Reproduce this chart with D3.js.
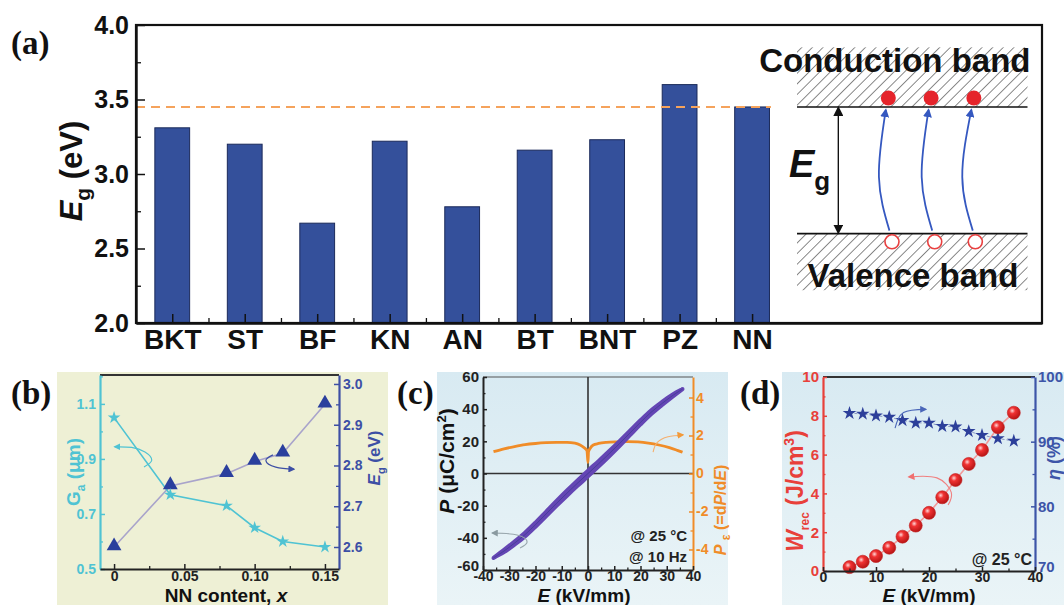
<!DOCTYPE html>
<html>
<head>
<meta charset="utf-8">
<script src="https://cdn.jsdelivr.net/npm/d3@7"></script>
<style>
  body { margin: 0; background: #fff; }
  svg { display: block; }
</style>
</head>
<body>
<script>
// ---------- data ----------
// (a) band gap of the end members
const materials = ["BKT", "ST", "BF", "KN", "AN", "BT", "BNT", "PZ", "NN"];
const bandGaps = [3.31, 3.20, 2.67, 3.22, 2.78, 3.16, 3.23, 3.60, 3.45];
const egTicks = [2.0, 2.5, 3.0, 3.5, 4.0];
const egMinor = [2.25, 2.75, 3.25, 3.75];
const nnGap = 3.45;

// (b) grain size and band gap vs NN content
const nnContent = [0, 0.04, 0.08, 0.10, 0.12, 0.15];
const grainSize = [1.05, 0.77, 0.73, 0.65, 0.60, 0.58];
const gapB = [2.60, 2.75, 2.78, 2.81, 2.83, 2.95];
const gaTicks = [0.5, 0.7, 0.9, 1.1];
const egTicksB = [2.6, 2.7, 2.8, 2.9, 3.0];
const nnTicks = [0, 0.05, 0.10, 0.15];

// (c) P-E loop and permittivity
const loopE = [-36, -32, -28, -24, -20, -16, -12, -8, -4, 0, 4, 8, 12, 16, 20, 24, 28, 32, 36];
const loopUpper = [-52.5, -47.5, -42.3, -36.8, -30.5, -23.8, -17.1, -10.6, -4.3, 1.8, 7.7, 13.8, 20.1, 26.6, 33.1, 39.2, 44.3, 48.9, 52.5];
const loopLower = [-52.5, -48.9, -44.3, -39.2, -33.1, -26.6, -20.1, -13.8, -7.7, -1.8, 4.3, 10.6, 17.1, 23.8, 30.5, 36.8, 42.3, 47.5, 52.5];
const epsE = [-36, -32, -28, -24, -20, -16, -12, -8, -5, -3, -1.5, -0.4, 0, 0.2, 0.8, 2, 4, 7, 11, 15, 19, 23, 27, 31, 34, 36];
const epsVal = [1.15, 1.3, 1.42, 1.52, 1.58, 1.62, 1.64, 1.64, 1.6, 1.5, 1.36, 1.2, 0.58, 1.15, 1.32, 1.5, 1.58, 1.64, 1.67, 1.68, 1.66, 1.6, 1.5, 1.36, 1.22, 1.12];
const pTicks = [-60, -40, -20, 0, 20, 40, 60];
const epsTicks = [-4, -2, 0, 2, 4];
const eTicksC = [-40, -30, -20, -10, 0, 10, 20, 30, 40];

// (d) recoverable energy density and efficiency
const fieldD = [5, 7.5, 10, 12.5, 15, 17.5, 20, 22.5, 25, 27.5, 30, 33, 36];
const wRec = [0.2, 0.48, 0.77, 1.2, 1.77, 2.34, 3.0, 3.8, 4.69, 5.52, 6.24, 7.41, 8.16];
const eta = [94.4, 94.3, 94.0, 93.8, 93.3, 92.9, 92.9, 92.4, 92.3, 91.6, 91.0, 90.5, 90.1];
const wTicks = [0, 2, 4, 6, 8, 10];
const etaTicks = [70, 80, 90, 100];
const eTicksD = [0, 10, 20, 30, 40];

// ---------- setup ----------
const FONT = "'Liberation Sans', Arial, Helvetica, sans-serif";
const SERIF = "'Liberation Serif', 'Times New Roman', serif";

const svg = d3.select("body").append("svg")
  .attr("width", 1064).attr("height", 605)
  .attr("font-family", FONT).attr("font-weight", "bold");
const defs = svg.append("defs");

function marker(id, color, size) {
  defs.append("marker").attr("id", id)
    .attr("viewBox", "0 0 10 10").attr("refX", 8).attr("refY", 5)
    .attr("markerWidth", size).attr("markerHeight", size)
    .attr("markerUnits", "userSpaceOnUse")
    .attr("orient", "auto-start-reverse")
    .append("path").attr("d", "M0,0 L10,5 L0,10 z").attr("fill", color);
}
marker("arBlack", "#111", 10);
marker("arBand", "#3558c0", 9);
marker("arCyan", "#4fc3d3", 7);
marker("arBlue", "#3d4fa5", 7);
marker("arOrange", "#f29a3a", 7);
marker("arGray", "#8a9aa0", 7);
marker("arRed", "#f07070", 7);
marker("arBlueD", "#4a66b8", 7);

// hyphen instead of the typographic minus, as in the figure
const fmtInt = d => d < 0 ? "-" + Math.abs(d) : String(d);

function drawAxis(g, axis, color, fs, sw) {
  g.call(axis);
  g.attr("font-family", FONT).attr("font-size", fs).attr("font-weight", "bold");
  g.select(".domain").attr("stroke", color).attr("stroke-width", sw);
  g.selectAll(".tick line").attr("stroke", color).attr("stroke-width", 1.5);
  g.selectAll(".tick text").attr("fill", color);
  return g;
}
function minorTicks(g, axis, color) {
  g.call(axis.tickFormat(""));
  g.select(".domain").remove();
  g.selectAll(".tick line").attr("stroke", color).attr("stroke-width", 1.3);
}
// lift the lowest label of a vertical axis a little off the corner
function liftBottomLabel(g, v) {
  g.selectAll(".tick").filter(d => d === v).select("text").attr("dy", "0.05em");
}
function curveArrow(pts, xs, ys, color, mk, w) {
  svg.append("path")
    .attr("d", d3.line().x(d => xs(d[0])).y(d => ys(d[1])).curve(d3.curveNatural)(pts))
    .attr("fill", "none").attr("stroke", color).attr("stroke-width", w || 1.3)
    .attr("marker-end", `url(#${mk})`);
}
function vLabel(cx, cy, fs, color, parts) {
  const t = svg.append("text")
    .attr("transform", `translate(${cx + fs * 0.36},${cy}) rotate(-90)`)
    .attr("text-anchor", "middle").attr("font-size", fs).attr("fill", color);
  parts.forEach(p => {
    const s = t.append("tspan").text(p.t);
    if (p.i) s.attr("font-style", "italic");
    if (p.fs) s.attr("font-size", p.fs);
    if (p.dy) s.attr("dy", p.dy);
  });
  return t;
}
function panelTag(x, y, s) {
  svg.append("text").attr("x", x).attr("y", y).attr("font-family", SERIF)
    .attr("font-size", 33).attr("font-weight", "bold").attr("fill", "#111").text(s);
}
function xTitle(cx, y, pre, it, post) {
  const t = svg.append("text").attr("x", cx).attr("y", y).attr("text-anchor", "middle")
    .attr("font-size", 19).attr("fill", "#111");
  if (pre) t.append("tspan").text(pre);
  t.append("tspan").text(it).attr("font-style", "italic");
  if (post) t.append("tspan").text(post);
}

// ================= (a) =================
const xA = d3.scaleLinear().domain([-0.5, 12]).range([136, 1042]);
const yA = d3.scaleLinear().domain([2, 4]).range([323, 25]);

svg.append("g").selectAll("rect").data(bandGaps).join("rect")
  .attr("x", (d, i) => xA(i - 0.24))
  .attr("width", xA(0.24) - xA(-0.24))
  .attr("y", d => yA(d))
  .attr("height", d => yA(2) - yA(d))
  .attr("fill", "#34509b").attr("stroke", "#1b2a5a").attr("stroke-width", 1);

svg.append("line")
  .attr("x1", xA(-0.5)).attr("x2", xA(8.26))
  .attr("y1", yA(nnGap)).attr("y2", yA(nnGap))
  .attr("stroke", "#f5a35c").attr("stroke-width", 2).attr("stroke-dasharray", "9,6");

// band diagram schematic
const hatch = defs.append("pattern").attr("id", "hatch")
  .attr("patternUnits", "userSpaceOnUse").attr("width", 7.5).attr("height", 7.5)
  .attr("patternTransform", "rotate(45)");
hatch.append("line").attr("x1", 0).attr("y1", 0).attr("x2", 0).attr("y2", 7.5)
  .attr("stroke", "#4a4a4a").attr("stroke-width", 1.3);

const bandL = 8.62, bandR = 11.8, cb = 3.45, vb = 2.6;
svg.append("rect").attr("x", xA(bandL)).attr("y", yA(3.85))
  .attr("width", xA(bandR) - xA(bandL)).attr("height", yA(cb) - yA(3.85))
  .attr("fill", "url(#hatch)");
svg.append("rect").attr("x", xA(bandL)).attr("y", yA(vb))
  .attr("width", xA(bandR) - xA(bandL)).attr("height", yA(2.22) - yA(vb))
  .attr("fill", "url(#hatch)");
[cb, vb].forEach(v => svg.append("line")
  .attr("x1", xA(bandL)).attr("x2", xA(bandR)).attr("y1", yA(v)).attr("y2", yA(v))
  .attr("stroke", "#111").attr("stroke-width", 1.6));

svg.append("text").attr("x", xA(9.97)).attr("y", yA(3.685))
  .attr("text-anchor", "middle").attr("font-size", 33).attr("fill", "#111").text("Conduction band");
svg.append("text").attr("x", xA(10.22)).attr("y", yA(2.24))
  .attr("text-anchor", "middle").attr("font-size", 33).attr("fill", "#111").text("Valence band");

const electronX = [9.88, 10.47, 11.06];
const holeX = [9.93, 10.52, 11.08];
holeX.forEach((h, i) => {
  curveArrow([[h - 0.035, 2.62], [h - 0.18, 2.98], [electronX[i] - 0.035, 3.43]],
    xA, yA, "#3558c0", "arBand", 1.8);
});
svg.append("g").selectAll("circle").data(electronX).join("circle")
  .attr("cx", d => xA(d)).attr("cy", yA(3.51)).attr("r", 7.5).attr("fill", "#e5242b");
svg.append("g").selectAll("circle").data(holeX).join("circle")
  .attr("cx", d => xA(d)).attr("cy", yA(2.545)).attr("r", 7)
  .attr("fill", "#fff").attr("stroke", "#e84040").attr("stroke-width", 1.6);

svg.append("line").attr("x1", xA(9.19)).attr("x2", xA(9.19))
  .attr("y1", yA(cb) + 1).attr("y2", yA(vb) - 1)
  .attr("stroke", "#111").attr("stroke-width", 1.4)
  .attr("marker-start", "url(#arBlack)").attr("marker-end", "url(#arBlack)");
const egT = svg.append("text").attr("x", 789).attr("y", 177).attr("fill", "#111");
egT.append("tspan").text("E").attr("font-style", "italic").attr("font-size", 38);
egT.append("tspan").text("g").attr("font-size", 26).attr("dy", 13);

// frame and axes
svg.append("rect").attr("x", xA(-0.5)).attr("y", yA(4))
  .attr("width", xA(12) - xA(-0.5)).attr("height", yA(2) - yA(4))
  .attr("fill", "none").attr("stroke", "#111").attr("stroke-width", 2.2);

drawAxis(svg.append("g").attr("transform", `translate(${xA(-0.5)},0)`),
  d3.axisLeft(yA).tickValues(egTicks).tickFormat(d3.format(".1f"))
    .tickSize(-9).tickSizeOuter(0).tickPadding(7), "#111", 25, 2.4);
minorTicks(svg.append("g").attr("transform", `translate(${xA(-0.5)},0)`),
  d3.axisLeft(yA).tickValues(egMinor).tickSize(-5), "#111");
drawAxis(svg.append("g").attr("transform", `translate(0,${yA(2)})`),
  d3.axisBottom(xA).tickValues(materials.map((m, i) => i)).tickFormat(i => materials[i])
    .tickSize(-9).tickSizeOuter(0).tickPadding(6), "#111", 28, 2.4);
minorTicks(svg.append("g").attr("transform", `translate(0,${yA(2)})`),
  d3.axisBottom(xA).tickValues(materials.slice(1).map((m, i) => i + 0.5)).tickSize(-5), "#111");

vLabel(71, 171, 31, "#111", [
  { t: "E", i: true }, { t: "g", fs: 21, dy: 8 }, { t: " (eV)", dy: -8 }
]);
panelTag(11, 54, "(a)");

// ================= (b) =================
svg.append("rect").attr("x", 57).attr("y", 372).attr("width", 331).attr("height", 233).attr("fill", "#eef0d5");
const xB = d3.scaleLinear().domain([-0.01, 0.16]).range([100, 339]);
const yBL = d3.scaleLinear().domain([0.5, 1.205]).range([569, 375]);
const yBR = d3.scaleLinear().domain([2.546, 3.022]).range([569, 375]);
const cyan = "#4fc3d3", blueB = "#3d4fa5";

svg.append("line").attr("x1", xB(-0.01)).attr("x2", xB(0.16)).attr("y1", 375).attr("y2", 375)
  .attr("stroke", "#333").attr("stroke-width", 2);

svg.append("path").datum(nnContent)
  .attr("d", d3.line().x(d => xB(d)).y((d, i) => yBR(gapB[i])))
  .attr("fill", "none").attr("stroke", "#a9a4cb").attr("stroke-width", 1.6);
svg.append("path").datum(nnContent)
  .attr("d", d3.line().x(d => xB(d)).y((d, i) => yBL(grainSize[i])))
  .attr("fill", "none").attr("stroke", cyan).attr("stroke-width", 1.6);
svg.append("g").selectAll("path").data(nnContent).join("path")
  .attr("transform", (d, i) => `translate(${xB(d)},${yBR(gapB[i]) - 1})`)
  .attr("d", d3.symbol(d3.symbolTriangle, 95)).attr("fill", "#2a3f9d");
svg.append("g").selectAll("path").data(nnContent).join("path")
  .attr("transform", (d, i) => `translate(${xB(d)},${yBL(grainSize[i])})`)
  .attr("d", d3.symbol(d3.symbolStar, 50)).attr("fill", cyan);

curveArrow([[0.0213, 0.871], [0.0268, 0.895], [0.022, 0.925], [0.0125, 0.942], [0.0005, 0.944]],
  xB, yBL, cyan, "arCyan", 1.2);
curveArrow([[0.113, 2.826], [0.108, 2.812], [0.115, 2.796], [0.128, 2.791]],
  xB, yBR, blueB, "arBlue", 1.2);

drawAxis(svg.append("g").attr("transform", `translate(${xB(-0.01)},0)`),
  d3.axisLeft(yBL).tickValues(gaTicks).tickFormat(d3.format(".1f"))
    .tickSize(-5).tickSizeOuter(0).tickPadding(4), cyan, 14, 2.2);
minorTicks(svg.append("g").attr("transform", `translate(${xB(-0.01)},0)`),
  d3.axisLeft(yBL).tickValues(gaTicks.map(v => v + 0.1)).tickSize(-3), cyan);
drawAxis(svg.append("g").attr("transform", `translate(${xB(0.16)},0)`),
  d3.axisRight(yBR).tickValues(egTicksB).tickFormat(d3.format(".1f"))
    .tickSize(-5).tickSizeOuter(0).tickPadding(4), blueB, 14, 2.2);
minorTicks(svg.append("g").attr("transform", `translate(${xB(0.16)},0)`),
  d3.axisRight(yBR).tickValues(egTicksB.slice(1).map(v => v - 0.05)).tickSize(-3), blueB);
drawAxis(svg.append("g").attr("transform", `translate(0,569)`),
  d3.axisBottom(xB).tickValues(nnTicks).tickFormat(d => d === 0 ? "0" : d3.format(".2f")(d))
    .tickSize(-5).tickSizeOuter(0).tickPadding(2), "#222", 14, 2);
minorTicks(svg.append("g").attr("transform", `translate(0,569)`),
  d3.axisBottom(xB).tickValues(nnTicks.slice(1).map(v => v - 0.025)).tickSize(-3), "#222");

vLabel(73, 472, 19, cyan, [
  { t: "G" }, { t: "a", fs: 12, dy: 5 }, { t: " (" , dy: -5 }, { t: "\u03bcm)" }
]);
vLabel(374, 458, 17, blueB, [
  { t: "E", i: true }, { t: "g", fs: 11, dy: 5 }, { t: " (eV)", dy: -5 }
]);
const nnT = svg.append("text").attr("x", 226).attr("y", 602).attr("text-anchor", "middle")
  .attr("font-size", 19).attr("fill", "#111");
nnT.append("tspan").text("NN content, ");
nnT.append("tspan").text("x").attr("font-style", "italic");
panelTag(11, 404, "(b)");

// ================= (c) =================
const gradC = defs.append("linearGradient").attr("id", "bgBlue").attr("x1", 0).attr("y1", 0).attr("x2", 0).attr("y2", 1);
gradC.append("stop").attr("offset", "0%").attr("stop-color", "#d8eaf2");
gradC.append("stop").attr("offset", "100%").attr("stop-color", "#eaf4f7");
svg.append("rect").attr("x", 437).attr("y", 372).attr("width", 291).attr("height", 233).attr("fill", "url(#bgBlue)");

const xC = d3.scaleLinear().domain([-40, 40]).range([483, 693]);
const yCL = d3.scaleLinear().domain([-60, 60]).range([570, 377]);
const yCR = d3.scaleLinear().domain([-5.08, 5.08]).range([570, 377]);
const orange = "#f08c28";

svg.append("line").attr("x1", xC(-40)).attr("x2", xC(40)).attr("y1", yCL(60)).attr("y2", yCL(60))
  .attr("stroke", "#555").attr("stroke-width", 1.2);
svg.append("line").attr("x1", xC(0)).attr("x2", xC(0)).attr("y1", yCL(-60)).attr("y2", yCL(60))
  .attr("stroke", "#333").attr("stroke-width", 1.6);
svg.append("line").attr("x1", xC(-40)).attr("x2", xC(40)).attr("y1", yCL(0)).attr("y2", yCL(0))
  .attr("stroke", "#333").attr("stroke-width", 1.6);

svg.append("path").datum(epsE)
  .attr("d", d3.line().x(d => xC(d)).y((d, i) => yCR(epsVal[i])).curve(d3.curveMonotoneX))
  .attr("fill", "none").attr("stroke", orange).attr("stroke-width", 2.8);

const loopPts = loopE.map((e, i) => [e, loopUpper[i]])
  .concat(loopE.map((e, i) => [e, loopLower[i]]).reverse());
svg.append("path").datum(loopPts)
  .attr("d", d3.line().x(d => xC(d[0])).y(d => yCL(d[1])).curve(d3.curveCatmullRomClosed))
  .attr("fill", "#5e3fae").attr("stroke", "#6446b4").attr("stroke-width", 4)
  .attr("stroke-linejoin", "round");
svg.append("path").datum(loopE)
  .attr("d", d3.line().x(d => xC(d)).y((d, i) => yCL((loopUpper[i] + loopLower[i]) / 2)).curve(d3.curveCatmullRom))
  .attr("fill", "none").attr("stroke", "#3c3a90").attr("stroke-width", 1).attr("stroke-opacity", 0.7);

curveArrow([[24.8, 1.13], [26.3, 1.62], [30.5, 1.93], [36.2, 2.03]], xC, yCR, "#f5b070", "arOrange", 1.1);
curveArrow([[-25.9, -46.3], [-23.2, -42.6], [-27, -38.2], [-36.5, -37]], xC, yCL, "#9aa8ae", "arGray", 1.1);

liftBottomLabel(drawAxis(svg.append("g").attr("transform", `translate(${xC(-40)},0)`),
  d3.axisLeft(yCL).tickValues(pTicks).tickFormat(fmtInt).tickSize(-4).tickSizeOuter(0).tickPadding(4), "#222", 15, 2), -60);
minorTicks(svg.append("g").attr("transform", `translate(${xC(-40)},0)`),
  d3.axisLeft(yCL).tickValues(pTicks.slice(1).map(v => v - 10)).tickSize(-2.5), "#222");
drawAxis(svg.append("g").attr("transform", `translate(${xC(40)},0)`),
  d3.axisRight(yCR).tickValues(epsTicks).tickFormat(fmtInt).tickSize(-4).tickSizeOuter(0).tickPadding(3), orange, 14, 2);
minorTicks(svg.append("g").attr("transform", `translate(${xC(40)},0)`),
  d3.axisRight(yCR).tickValues(epsTicks.slice(1).map(v => v - 1)).tickSize(-2.5), orange);
drawAxis(svg.append("g").attr("transform", `translate(0,${yCL(-60)})`),
  d3.axisBottom(xC).tickValues(eTicksC).tickFormat(fmtInt).tickSize(-4).tickSizeOuter(0).tickPadding(1), "#222", 14, 2);
minorTicks(svg.append("g").attr("transform", `translate(0,${yCL(-60)})`),
  d3.axisBottom(xC).tickValues(eTicksC.slice(1).map(v => v - 5)).tickSize(-2.5), "#222");

vLabel(446, 461, 21, "#111", [
  { t: "P", i: true }, { t: " (\u03bcC/cm" }, { t: "2", fs: 13, dy: -8 }, { t: ")", dy: 8 }
]);
vLabel(720, 510, 16, orange, [
  { t: "P", i: true }, { t: "  " }, { t: "\u03b5", fs: 12, dy: 4 }, { t: " (=d", dy: -4 },
  { t: "P", i: true }, { t: "/d" }, { t: "E", i: true }, { t: ")" }
]);
xTitle(584, 602, "", "E", " (kV/mm)");
svg.append("text").attr("x", 687).attr("y", 541).attr("text-anchor", "end")
  .attr("font-size", 15).attr("fill", "#222").text("@ 25 \u00b0C");
svg.append("text").attr("x", 687).attr("y", 562).attr("text-anchor", "end")
  .attr("font-size", 15).attr("fill", "#222").text("@ 10 Hz");
panelTag(397, 404, "(c)");

// ================= (d) =================
svg.append("rect").attr("x", 782).attr("y", 372).attr("width", 282).attr("height", 233).attr("fill", "url(#bgBlue)");
const xD = d3.scaleLinear().domain([0, 40]).range([823, 1035]);
const yDL = d3.scaleLinear().domain([0, 10]).range([571, 377]);
const yDR = d3.scaleLinear().domain([70, 100]).range([571, 377]);
const red = "#e8403a", blueD = "#3d55a8";

const sph = defs.append("radialGradient").attr("id", "sphere")
  .attr("cx", "38%").attr("cy", "35%").attr("r", "65%");
sph.append("stop").attr("offset", "0%").attr("stop-color", "#ffd6d6");
sph.append("stop").attr("offset", "35%").attr("stop-color", "#f03232");
sph.append("stop").attr("offset", "100%").attr("stop-color", "#b81616");

svg.append("line").attr("x1", xD(0)).attr("x2", xD(40)).attr("y1", yDL(10)).attr("y2", yDL(10))
  .attr("stroke", "#333").attr("stroke-width", 2);

svg.append("path").datum(fieldD)
  .attr("d", d3.line().x(d => xD(d)).y((d, i) => yDR(eta[i])))
  .attr("fill", "none").attr("stroke", "#8c98c6").attr("stroke-width", 1).attr("stroke-dasharray", "3,2");
svg.append("path").datum(fieldD)
  .attr("d", d3.line().x(d => xD(d)).y((d, i) => yDL(wRec[i])))
  .attr("fill", "none").attr("stroke", "#f29a9a").attr("stroke-width", 1.6);
svg.append("g").selectAll("path").data(fieldD).join("path")
  .attr("transform", (d, i) => `translate(${xD(d)},${yDR(eta[i])})`)
  .attr("d", d3.symbol(d3.symbolStar, 58)).attr("fill", "#2c3f9a");
svg.append("g").selectAll("circle").data(fieldD).join("circle")
  .attr("cx", d => xD(d)).attr("cy", (d, i) => yDL(wRec[i])).attr("r", 6.5)
  .attr("fill", "url(#sphere)").attr("stroke", "#c01c1c").attr("stroke-width", 0.6);

curveArrow([[23.6, 3.4], [24.2, 4.05], [21.5, 4.8], [16.2, 4.85]], xD, yDL, "#f08080", "arRed", 1.1);
curveArrow([[13.6, 92.1], [15.2, 94.5], [19.4, 95.0]], xD, yDR, "#4a66b8", "arBlueD", 1.1);

drawAxis(svg.append("g").attr("transform", `translate(${xD(0)},0)`),
  d3.axisLeft(yDL).tickValues(wTicks).tickSize(-4).tickSizeOuter(0).tickPadding(4), red, 15, 2.2);
minorTicks(svg.append("g").attr("transform", `translate(${xD(0)},0)`),
  d3.axisLeft(yDL).tickValues(wTicks.slice(1).map(v => v - 1)).tickSize(-2.5), red);
liftBottomLabel(drawAxis(svg.append("g").attr("transform", `translate(${xD(40)},0)`),
  d3.axisRight(yDR).tickValues(etaTicks).tickSize(-4).tickSizeOuter(0).tickPadding(3), blueD, 15, 2.2), 70);
minorTicks(svg.append("g").attr("transform", `translate(${xD(40)},0)`),
  d3.axisRight(yDR).tickValues(etaTicks.slice(1).map(v => v - 5)).tickSize(-2.5), blueD);
drawAxis(svg.append("g").attr("transform", `translate(0,${yDL(0)})`),
  d3.axisBottom(xD).tickValues(eTicksD).tickSize(-4).tickSizeOuter(0).tickPadding(1), "#222", 14, 2);
minorTicks(svg.append("g").attr("transform", `translate(0,${yDL(0)})`),
  d3.axisBottom(xD).tickValues(eTicksD.slice(1).map(v => v - 5)).tickSize(-2.5), "#222");

vLabel(795, 491, 23, red, [
  { t: "W", i: true }, { t: "rec", fs: 12, dy: 6 }, { t: " (J/cm", dy: -6 }, { t: "3", fs: 14, dy: -9 }, { t: ")", dy: 9 }
]);
vLabel(1054, 458, 18, blueD, [
  { t: "\u03b7", i: true }, { t: " (%)" }
]);
xTitle(929, 602, "", "E", " (kV/mm)");
svg.append("text").attr("x", 1032).attr("y", 565).attr("text-anchor", "end")
  .attr("font-size", 16).attr("fill", "#222").text("@ 25 \u00b0C");
panelTag(740, 404, "(d)");
</script>
</body>
</html>
